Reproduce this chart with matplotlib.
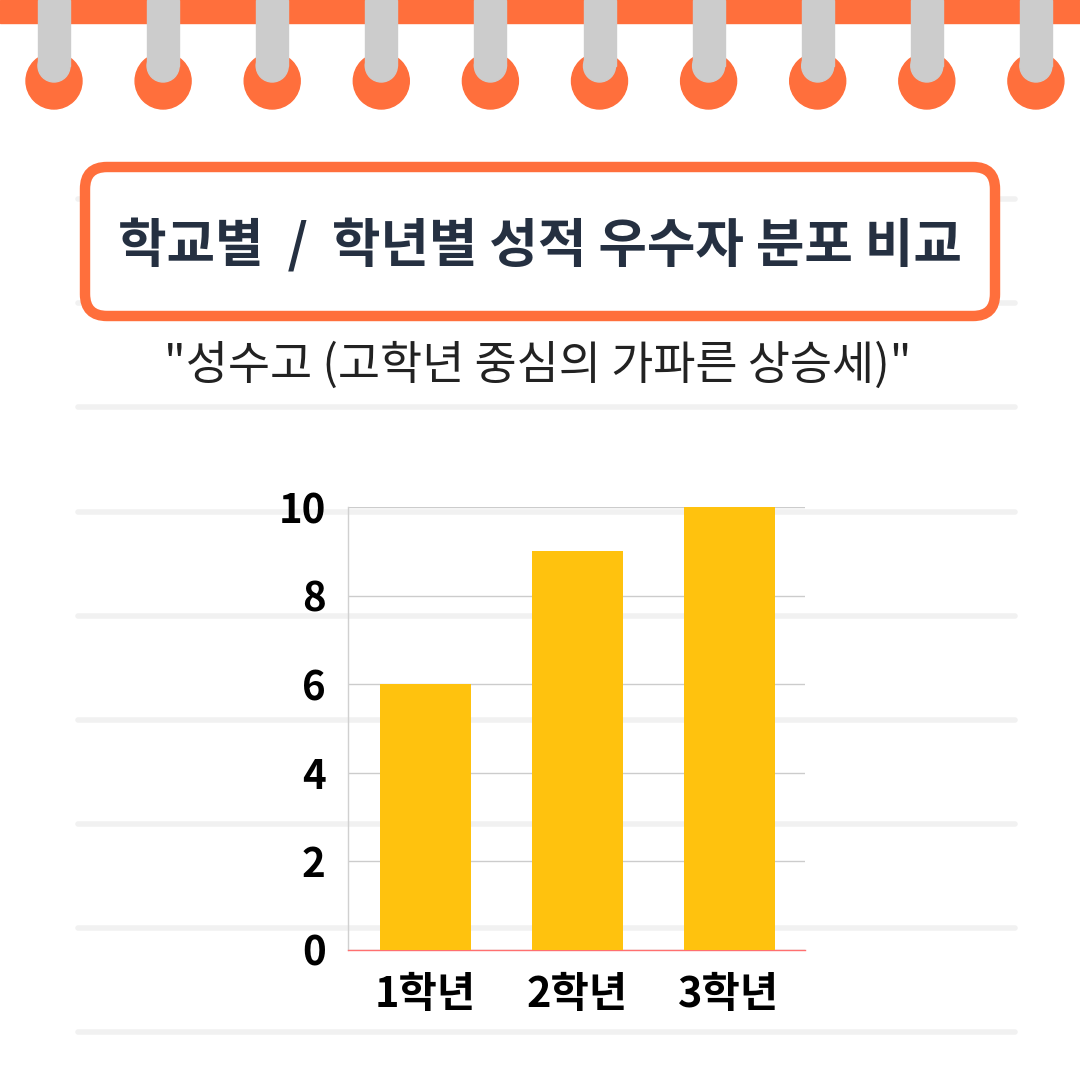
import matplotlib
matplotlib.use("Agg")
import matplotlib.pyplot as plt
from matplotlib.patches import Rectangle, Circle, FancyBboxPatch

plt.rcParams['font.family'] = ['Noto Sans CJK KR', 'DejaVu Sans']

# Data
grades = ['1학년', '2학년', '3학년']
counts = [6, 9, 10]
yticks = [0, 2, 4, 6, 8, 10]

title = '학교별  /  학년별 성적 우수자 분포 비교'
subtitle = '"성수고 (고학년 중심의 가파른 상승세)"'

ORANGE = '#FF6F3C'
GRAY = '#CCCCCC'
LINE = '#F1F1F1'
NAVY = '#253041'
BAR = '#FFC20E'

fig = plt.figure(figsize=(10.8, 10.8), dpi=100)
fig.patch.set_facecolor('white')

# background canvas in pixel coords (y down)
bg = fig.add_axes([0, 0, 1, 1])
bg.set_xlim(0, 1080)
bg.set_ylim(1080, 0)
bg.axis('off')

# notebook lines
for y in [199, 303, 407, 512, 616, 720, 824, 928, 1032]:
    bg.plot([78, 1015], [y, y], color=LINE, lw=4, solid_capstyle='round', zorder=1)

# top binding band + rings
bg.add_patch(Rectangle((0, 0), 1080, 23, color=ORANGE, zorder=2))
for i in range(10):
    cx = 54 + 109.1 * i
    bg.add_patch(Circle((cx, 81), 28, color=ORANGE, zorder=3))
    bg.add_patch(Rectangle((cx - 16, 0), 32, 66, color=GRAY, zorder=4))
    bg.add_patch(Circle((cx, 66), 16, color=GRAY, zorder=4))

# title box
bg.add_patch(FancyBboxPatch((85, 167), 910, 149,
                            boxstyle='round,pad=0,rounding_size=22',
                            facecolor='white', edgecolor=ORANGE, lw=7.5, zorder=5))
bg.text(540, 246, title, ha='center', va='center', fontsize=38,
        fontweight='black', color=NAVY, zorder=6)
bg.text(538, 366, subtitle, ha='center', va='center', fontsize=33,
        fontweight='medium', color='#222222', zorder=6)

# chart
ax = fig.add_axes([348 / 1080, 130 / 1080, 457 / 1080, 443 / 1080])
ax.patch.set_alpha(0)
x = range(len(grades))
ax.bar(x, counts, width=0.6, color=BAR, zorder=3)
ax.set_xlim(-0.51, 2.5)
ax.set_ylim(0, 10)
ax.set_yticks(yticks)
ax.set_yticklabels([str(v) for v in yticks], fontsize=29, fontweight='bold')
ax.set_xticks(list(x))
ax.set_xticklabels(grades, fontsize=30, fontweight='bold')
ax.tick_params(axis='y', length=0, pad=16)
ax.tick_params(axis='x', length=0, pad=17)
ax.grid(axis='y', color='#CCCCCC', lw=1, zorder=1)
for s in ['top', 'right']:
    ax.spines[s].set_visible(False)
ax.spines['left'].set_color('#D0D0D0')
ax.spines['left'].set_linewidth(1)
ax.spines['bottom'].set_color('#FF7070')
ax.spines['bottom'].set_linewidth(1)

fig.savefig('out.png', dpi=100, facecolor='white')
